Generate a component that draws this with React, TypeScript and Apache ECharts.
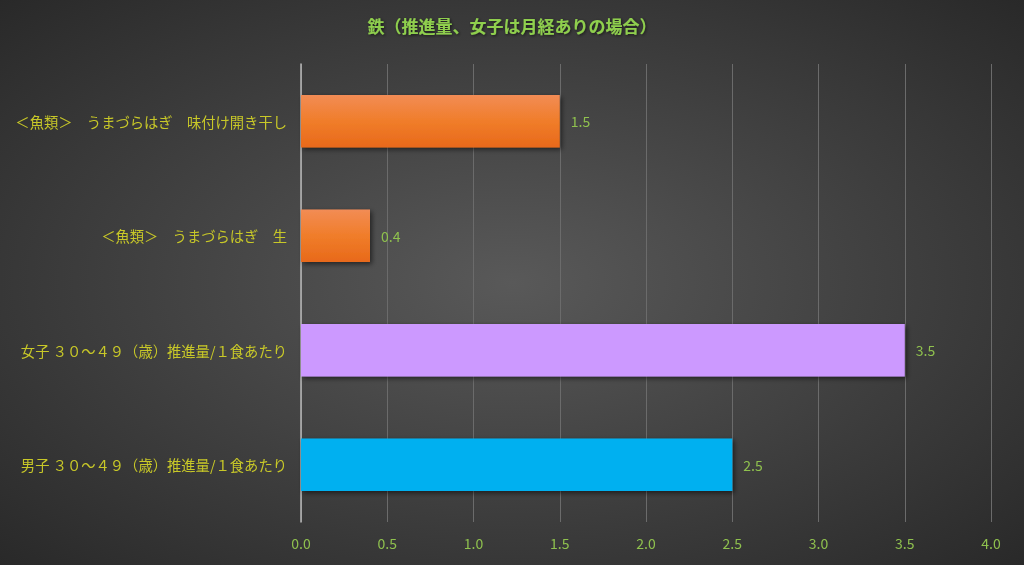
import React, { useEffect, useRef } from "react";
import * as echarts from "echarts";

const categories = [
  "男子 ３０～４９（歳）推進量/１食あたり",
  "女子 ３０～４９（歳）推進量/１食あたり",
  "＜魚類＞　うまづらはぎ　生",
  "＜魚類＞　うまづらはぎ　味付け開き干し",
];
const values = [2.5, 3.5, 0.4, 1.5];
const xTicks = [0, 0.5, 1.0, 1.5, 2.0, 2.5, 3.0, 3.5, 4.0];
const titleText = "鉄（推進量、女子は月経ありの場合）";

const orangeGrad = () =>
  new echarts.graphic.LinearGradient(0, 0, 0, 1, [
    { offset: 0, color: "#f28c55" },
    { offset: 0.5, color: "#f07d2a" },
    { offset: 1, color: "#e8691a" },
  ]);
const barColors = ["#00b0f0", "#cc99ff", "orange", "orange"];

export default function App() {
  const ref = useRef<HTMLDivElement>(null);
  useEffect(() => {
    document.body.style.margin = "0";
    const chart = echarts.init(ref.current!, null, { renderer: "svg" });
    const font = '"Noto Sans CJK JP", "Noto Sans", sans-serif';
    chart.setOption({
      animation: false,
      backgroundColor: new echarts.graphic.RadialGradient(0.5, 0.5, 0.75, [
        { offset: 0, color: "#595959" },
        { offset: 1, color: "#262626" },
      ]),
      title: {
        text: titleText,
        left: "center",
        top: 12,
        textStyle: {
          color: "#8fcf4e",
          fontSize: 17,
          fontWeight: "bold",
          fontFamily: font,
          textShadowColor: "rgba(0,0,0,0.6)",
          textShadowBlur: 3,
          textShadowOffsetX: 1,
          textShadowOffsetY: 1,
        },
      },
      grid: { left: 301, right: 33, top: 64, bottom: 43, containLabel: false },
      xAxis: {
        type: "value",
        min: 0,
        max: 4,
        interval: 0.5,
        axisLine: { show: false },
        axisTick: { show: false },
        splitLine: { lineStyle: { color: "#6b6b6b", width: 1 } },
        axisLabel: {
          color: "#8fc14e",
          fontSize: 14,
          fontFamily: font,
          margin: 14,
          formatter: (v: number) => v.toFixed(1),
        },
      },
      yAxis: {
        type: "category",
        data: categories,
        axisLine: { show: true, lineStyle: { color: "#b8b8b8", width: 1.5 } },
        axisTick: { show: false },
        axisLabel: {
          color: "#c8c828",
          fontSize: 14.3,
          fontFamily: font,
          margin: 14,
        },
      },
      series: [
        {
          type: "bar",
          barWidth: "46%",
          data: values.map((v, i) => ({
            value: v,
            itemStyle: {
              color: barColors[i] === "orange" ? orangeGrad() : barColors[i],
              shadowColor: "rgba(0,0,0,0.55)",
              shadowBlur: 5,
              shadowOffsetX: 2,
              shadowOffsetY: 2,
            },
          })),
          label: {
            show: true,
            position: "right",
            distance: 11,
            color: "#8fc14e",
            fontSize: 14,
            fontFamily: font,
            formatter: (p: any) => String(p.value),
          },
        },
      ],
    });
    return () => chart.dispose();
  }, []);
  return (
    <div
      ref={ref}
      style={{ position: "fixed", left: 0, top: 0, width: 1024, height: 565 }}
    />
  );
}
